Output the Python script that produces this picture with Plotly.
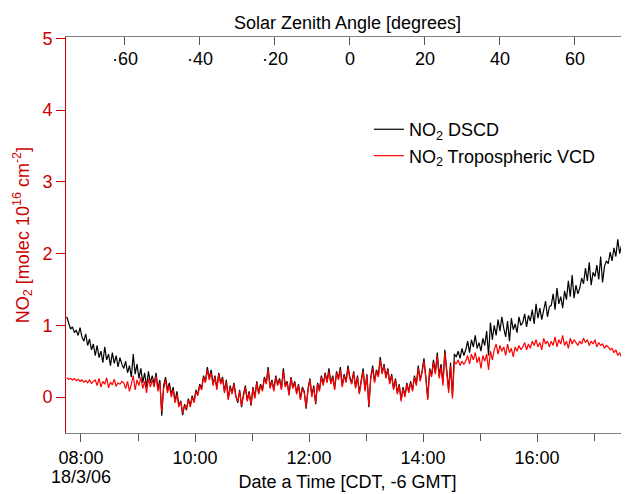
import pandas as pd
import plotly.graph_objects as go

# ---------------- data ----------------
start_time = "2006-03-18 07:45"
sample_step = "2min"

# NO2 DSCD (black), values in 1e16 molec cm-2, one row = 30 min
dscd = [
    1.12, 1.02, 0.95, 0.98, 0.90, 0.93, 0.86, 0.97, 0.84, 0.78, 0.88, 0.72, 0.81, 0.66, 0.74,
    0.58, 0.72, 0.55, 0.64, 0.48, 0.70, 0.52, 0.60, 0.44, 0.62, 0.47, 0.58, 0.42, 0.55, 0.46,
    0.40, 0.50, 0.34, 0.44, 0.28, 0.60, 0.32, 0.46, 0.26, 0.40, 0.20, 0.34, 0.14, 0.36, 0.20,
    0.30, 0.18, 0.34, 0.12, 0.24, -0.26, 0.16, 0.28, 0.10, 0.20, 0.04, 0.14, -0.06, 0.08, -0.12,
    -0.05, -0.25, -0.10, -0.18, -0.02, -0.12, 0.02, -0.06, 0.10, 0.04, 0.18, 0.12, 0.30, 0.22, 0.42,
    0.26, 0.38, 0.18, 0.30, 0.12, 0.34, 0.20, 0.28, 0.08, 0.24, -0.02, 0.16, 0.06, 0.20, 0.02,
    -0.08, 0.10, -0.14, 0.04, 0.16, -0.04, 0.08, -0.12, 0.14, 0.00, 0.22, 0.06, 0.18, 0.10, 0.28,
    0.20, 0.42, 0.14, 0.24, 0.10, 0.30, 0.18, 0.26, 0.12, 0.40, 0.16, 0.22, 0.04, 0.28, 0.14,
    0.22, 0.06, 0.18, -0.02, 0.14, 0.08, -0.16, 0.12, 0.26, 0.02, 0.16, -0.10, 0.20, 0.10, 0.30,
    0.18, 0.34, 0.22, 0.40, 0.20, 0.30, 0.12, 0.36, 0.26, 0.42, 0.16, 0.32, 0.22, 0.44, 0.28,
    0.20, 0.36, 0.14, 0.30, 0.06, 0.24, 0.40, 0.10, 0.32, -0.14, 0.28, 0.44, 0.22, 0.38, 0.30,
    0.56, 0.34, 0.46, 0.28, 0.40, 0.20, 0.32, 0.12, 0.26, 0.06, 0.18, -0.04, 0.14, 0.02, 0.20,
    0.08, 0.22, 0.10, 0.30, 0.18, 0.44, 0.24, 0.36, 0.54, 0.28, -0.02, 0.40, 0.30, 0.52, 0.34,
    0.62, 0.30, 0.46, 0.20, 0.66, 0.38, 0.10, 0.48, 0.02, 0.60, 0.56, 0.64, 0.54, 0.68, 0.58,
    0.66, 0.78, 0.62, 0.80, 0.70, 0.86, 0.68, 0.76, 0.64, 0.82, 0.72, 0.92, 0.58, 1.04, 0.80,
    1.00, 0.86, 1.08, 0.92, 1.12, 0.96, 0.84, 1.06, 0.78, 1.10, 0.94, 1.02, 0.90, 1.12, 1.00,
    1.04, 1.16, 0.98, 1.14, 1.06, 1.22, 1.02, 1.30, 1.10, 1.24, 1.08, 1.20, 1.34, 1.12, 1.26,
    1.28, 1.44, 1.22, 1.52, 1.30, 1.40, 1.24, 1.48, 1.36, 1.62, 1.40, 1.70, 1.38, 1.56, 1.44,
    1.52, 1.66, 1.58, 1.80, 1.62, 1.88, 1.56, 1.74, 1.68, 1.84, 1.64, 1.96, 1.60, 1.82, 1.90,
    1.86, 2.02, 1.90, 2.08, 1.96, 2.20, 2.00, 2.12, 1.84, 2.06, 1.72, 1.96,
]

# NO2 Tropospheric VCD (red)
vcd = [
    0.27, 0.25, 0.26, 0.24, 0.26, 0.23, 0.25, 0.22, 0.24, 0.21, 0.23, 0.20, 0.24, 0.19, 0.22,
    0.24, 0.16, 0.26, 0.14, 0.22, 0.18, 0.27, 0.13, 0.21, 0.17, 0.25, 0.15, 0.20, 0.18, 0.22,
    0.20, 0.12, 0.22, 0.08, 0.18, 0.30, 0.10, 0.24, 0.16, 0.28, 0.12, 0.22, 0.06, 0.26, 0.14,
    0.24, 0.14, 0.30, 0.08, 0.20, -0.20, 0.12, 0.24, 0.06, 0.16, 0.00, 0.10, -0.08, 0.04, -0.14,
    -0.06, -0.22, -0.12, -0.16, -0.04, -0.14, 0.00, -0.08, 0.08, 0.02, 0.16, 0.10, 0.28, 0.20, 0.38,
    0.24, 0.34, 0.16, 0.28, 0.10, 0.32, 0.18, 0.26, 0.06, 0.22, -0.04, 0.14, 0.04, 0.18, 0.00,
    -0.06, 0.08, -0.12, 0.02, 0.14, -0.06, 0.06, -0.10, 0.12, -0.02, 0.20, 0.04, 0.16, 0.08, 0.26,
    0.18, 0.38, 0.12, 0.22, 0.08, 0.28, 0.16, 0.24, 0.10, 0.36, 0.14, 0.20, 0.02, 0.26, 0.12,
    0.20, 0.04, 0.16, -0.04, 0.12, 0.06, -0.14, 0.10, 0.24, 0.00, 0.14, -0.08, 0.18, 0.08, 0.28,
    0.16, 0.32, 0.20, 0.36, 0.18, 0.28, 0.10, 0.34, 0.24, 0.38, 0.14, 0.30, 0.20, 0.40, 0.26,
    0.18, 0.34, 0.12, 0.28, 0.04, 0.22, 0.36, 0.08, 0.30, -0.12, 0.26, 0.40, 0.20, 0.36, 0.28,
    0.52, 0.32, 0.44, 0.26, 0.38, 0.18, 0.30, 0.10, 0.24, 0.04, 0.16, -0.06, 0.12, 0.00, 0.18,
    0.06, 0.20, 0.08, 0.28, 0.16, 0.40, 0.22, 0.34, 0.50, 0.26, -0.04, 0.38, 0.28, 0.48, 0.32,
    0.58, 0.26, 0.42, 0.16, 0.62, 0.34, 0.06, 0.44, -0.02, 0.50, 0.46, 0.52, 0.44, 0.50, 0.46,
    0.50, 0.58, 0.46, 0.60, 0.52, 0.62, 0.48, 0.56, 0.40, 0.58, 0.50, 0.60, 0.38, 0.64, 0.52,
    0.66, 0.74, 0.60, 0.72, 0.64, 0.70, 0.58, 0.74, 0.62, 0.68, 0.56, 0.70, 0.64, 0.72, 0.66,
    0.70, 0.76, 0.66, 0.74, 0.68, 0.78, 0.72, 0.80, 0.70, 0.76, 0.66, 0.82, 0.74, 0.78, 0.70,
    0.78, 0.72, 0.84, 0.70, 0.80, 0.74, 0.86, 0.72, 0.78, 0.68, 0.82, 0.74, 0.80, 0.76, 0.72,
    0.78, 0.74, 0.82, 0.76, 0.80, 0.72, 0.78, 0.74, 0.80, 0.70, 0.76, 0.72, 0.74, 0.68, 0.72,
    0.70, 0.66, 0.68, 0.62, 0.66, 0.58, 0.62, 0.56, 0.60, 0.50, 0.46, 0.52,
]

time_tick_vals = ["2006-03-18 08:00", "2006-03-18 10:00", "2006-03-18 12:00",
                  "2006-03-18 14:00", "2006-03-18 16:00"]
time_tick_text = ["08:00", "10:00", "12:00", "14:00", "16:00"]
time_minor_vals = ["2006-03-18 09:00", "2006-03-18 11:00", "2006-03-18 13:00",
                   "2006-03-18 15:00", "2006-03-18 17:00"]
date_label = "18/3/06"

sza_tick_vals = [-60, -40, -20, 0, 20, 40, 60]
sza_tick_text = ["·60", "·40", "·20", "0", "20", "40", "60"]

y_tick_vals = [0, 1, 2, 3, 4, 5]

times = pd.date_range(start_time, periods=len(dscd), freq=sample_step)

# ---------------- figure ----------------
RED = "#cc0000"
AXGRAY = "#808080"
FONT = "Liberation Sans, Arial, Helvetica, sans-serif"

fig = go.Figure()
fig.add_trace(go.Scatter(x=times, y=dscd, mode="lines",
                         line=dict(color="black", width=1.2),
                         name="NO<sub>2</sub> DSCD"))
fig.add_trace(go.Scatter(x=times, y=vcd, mode="lines",
                         line=dict(color="#ff0000", width=1.2),
                         name="NO<sub>2</sub> Tropospheric VCD"))
# carrier trace for the top Solar Zenith Angle axis
fig.add_trace(go.Scatter(x=sza_tick_vals, y=[None] * len(sza_tick_vals),
                         xaxis="x2", mode="lines", showlegend=False,
                         hoverinfo="skip"))

# the page body has an 8px margin, so the figure is sized to the visible area
fig.update_layout(
    width=621, height=486,
    margin=dict(l=58, r=0, t=29, b=61, autoexpand=False),
    paper_bgcolor="white", plot_bgcolor="white",
    font=dict(family=FONT, size=18, color="black"),
    showlegend=True,
    legend=dict(x=0.538, y=0.813, xanchor="left", yanchor="top",
                bgcolor="rgba(0,0,0,0)", font=dict(size=18),
                itemwidth=30, tracegroupgap=0),
    xaxis=dict(
        type="date", automargin=False,
        range=["2006-03-18 07:44:13", "2006-03-18 17:36:50"],
        tickmode="array", tickvals=time_tick_vals, ticktext=time_tick_text,
        ticks="outside", ticklen=8, tickcolor="#555555", tickwidth=1,
        minor=dict(tickvals=time_minor_vals, ticks="outside", ticklen=7,
                   tickcolor="#555555", tickwidth=1, showgrid=False),
        showline=True, linecolor=AXGRAY, linewidth=1,
        showgrid=False, zeroline=False,
        tickfont=dict(size=18, color="black"),
        title=dict(text="Date a Time [CDT, -6 GMT]", standoff=8,
                   font=dict(size=18, color="black")),
    ),
    xaxis2=dict(
        overlaying="x", side="top", anchor="y", automargin=False,
        range=[-75.7, 74.4],
        tickmode="array", tickvals=sza_tick_vals, ticktext=sza_tick_text,
        ticks="inside", ticklen=8, tickcolor="#555555",
        ticklabelposition="outside", ticklabelstandoff=-36,
        showline=True, linecolor=AXGRAY, linewidth=1,
        showgrid=False, zeroline=False,
        tickfont=dict(size=18, color="black"),
        title=dict(text="Solar Zenith Angle [degrees]", standoff=14,
                   font=dict(size=18, color="black")),
    ),
    yaxis=dict(
        range=[-0.5, 5.02], automargin=False,
        tickmode="array", tickvals=y_tick_vals,
        ticks="outside", ticklen=9, tickcolor=RED, tickwidth=1,
        showline=True, linecolor=RED, linewidth=1,
        showgrid=False, zeroline=False,
        tickfont=dict(size=18, color=RED),
        title=dict(text="NO<sub>2</sub> [molec 10<sup>16</sup> cm<sup>-2</sup>]",
                   standoff=8, font=dict(size=18, color=RED)),
    ),
    annotations=[
        dict(text=date_label, x=time_tick_vals[0], xref="x",
             y=-0.111, yref="paper", xanchor="center", yanchor="middle",
             showarrow=False, font=dict(size=18, color="black")),
    ],
)

fig.write_html("out.html")
